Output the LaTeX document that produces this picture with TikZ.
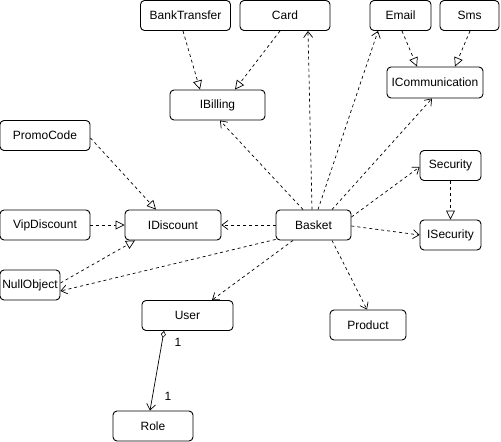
\documentclass[tikz,border=0pt]{standalone}
\usepackage{fontspec}
\setmainfont{Liberation Sans}
\usetikzlibrary{arrows.meta}
\begin{document}
\begin{tikzpicture}[x=1pt,y=-1pt,
  box/.style={draw, line width=0.9pt, rounded corners=4pt, minimum width=#1, minimum height=30pt, inner sep=0pt, font=\fontsize{12}{14}\selectfont},
  dep/.style={draw, line width=0.7pt, dash pattern=on 3pt off 3pt, -{Straight Barb[length=6pt,width=9pt,line width=0.7pt]}},
  real/.style={draw, line width=0.7pt, dash pattern=on 3pt off 3pt, -{Triangle[open,length=9pt,width=9pt,line width=0.7pt,fill=white]}},
  assoc/.style={draw, line width=0.7pt, {Diamond[open,length=7pt,width=5pt,line width=0.6pt]}-{Straight Barb[length=6pt,width=9pt,line width=0.7pt]}},
  lbl/.style={font=\fontsize{12}{14}\selectfont, inner sep=0pt}]
\useasboundingbox (0,0) rectangle (501,442);
\node[box=90pt] (bank) at (185.5,15.5) {BankTransfer};
\node[box=90pt] (card) at (285,15.5) {Card};
\node[box=95pt] (ibilling) at (217.5,105) {IBilling};
\node[box=61pt] (email) at (400.5,15.5) {Email};
\node[box=59pt] (sms) at (469.5,15.5) {Sms};
\node[box=96pt, minimum height=31pt] (icomm) at (435,82.5) {ICommunication};
\node[box=90pt] (promo) at (45,135.5) {PromoCode};
\node[box=90pt] (vip) at (45,225) {VipDiscount};
\node[box=96pt] (idisc) at (173,225) {IDiscount};
\node[box=60pt] (null) at (30,285) {NullObject};
\node[box=75pt] (basket) at (313.5,225) {Basket};
\node[box=61pt] (security) at (450.5,165.5) {Security};
\node[box=61pt] (isecurity) at (450.5,235) {ISecurity};
\node[box=76pt] (product) at (368,325) {Product};
\node[box=91pt] (user) at (187.5,315.5) {User};
\node[box=80pt] (role) at (153,426) {Role};

\draw[real] ([xshift=-2.5pt]bank.south) -- ([xshift=-17.5pt]ibilling.north);
\draw[real] ([xshift=-5pt]card.south) -- ([xshift=17.5pt]ibilling.north);
\draw[real] ([xshift=1.5pt]email.south) -- ([xshift=-18pt]icomm.north);
\draw[real] ([xshift=0.5pt]sms.south) -- ([xshift=20pt]icomm.north);
\draw[real] ([yshift=-2.5pt]promo.east) -- ([xshift=-17pt]idisc.north);
\draw[real] (vip.east) -- (idisc.west);
\draw[real] ([yshift=2pt]null.east) -- ([xshift=-38pt]idisc.south);
\draw[real] (security.south) -- (isecurity.north);

\draw[dep] ([xshift=-10.5pt]basket.north) -- ([xshift=2.5pt]ibilling.south);
\draw[dep] ([xshift=-1.5pt]basket.north) -- ([xshift=23pt]card.south);
\draw[dep] ([xshift=4.5pt]basket.north) -- ([xshift=-22.5pt]email.south);
\draw[dep] ([xshift=18.5pt]basket.north) -- ([xshift=-3pt]icomm.south);
\draw[dep] ([yshift=8pt]basket.east) -- ([yshift=-1.5pt]security.west);
\draw[dep] ([yshift=-1pt]basket.east) -- (isecurity.west);
\draw[dep] ([xshift=18.5pt]basket.south) -- ([xshift=-1pt]product.north);
\draw[dep] ([xshift=-20.5pt]basket.south) -- ([xshift=24.5pt]user.north);
\draw[dep] ([yshift=1pt]basket.south west) -- ([yshift=-6pt]null.east);
\draw[dep] (basket.west) -- (idisc.east);

\draw[assoc] ([xshift=-23.5pt]user.south) -- ([xshift=-3pt]role.north);
\node[lbl] (m1) at (178,342) {1};
\node[lbl] (m2) at (168,396) {1};
\end{tikzpicture}
\end{document}
